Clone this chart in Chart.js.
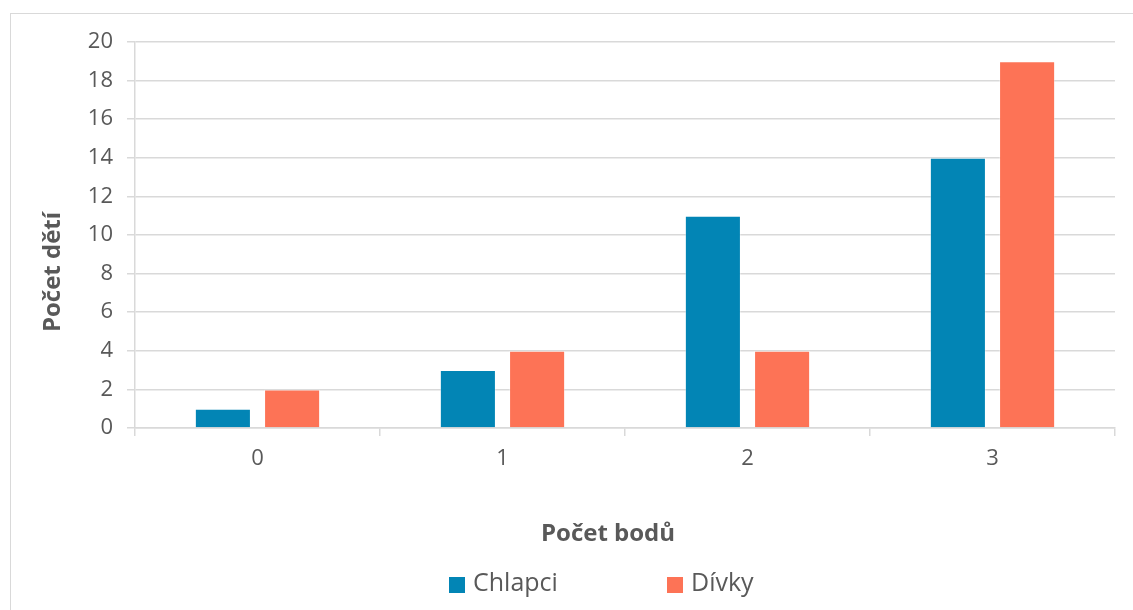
<!DOCTYPE html>
<html>
<head>
<meta charset="utf-8">
<script src="https://cdn.jsdelivr.net/npm/chart.js@4"></script>
<style>
  html, body { margin: 0; padding: 0; background: #fff; overflow: hidden; }
  #wrap { position: relative; width: 1133px; height: 610px; }
  #frame { position: absolute; left: 10px; top: 13px; width: 1300px; height: 800px;
           border: 1px solid #d9d9d9; box-sizing: border-box; pointer-events: none; }
  canvas { position: absolute; left: 0; top: 0; }
</style>
</head>
<body>
<div id="wrap">
  <div id="frame"></div>
  <canvas id="chart" width="1133" height="610"></canvas>
</div>
<script>
// Number of children per score
const categories = ['0', '1', '2', '3'];
const boys = [1, 3, 11, 14];
const girls = [2, 4, 4, 19];
const seriesNames = ['Chlapci', 'Dívky'];
const yTitle = 'Počet dětí';
const xTitle = 'Počet bodů';

const FONT = "'Open Sans', 'DejaVu Sans', sans-serif";
const TEXT = '#595959';
const GRID = '#d9d9d9';

// Axis titles and legend drawn in the margins around the plot
const decorations = {
  id: 'decorations',
  afterDraw(chart) {
    const ctx = chart.ctx;
    ctx.save();
    ctx.fillStyle = TEXT;
    ctx.font = 'bold 24px ' + FONT;
    ctx.textAlign = 'center';
    ctx.textBaseline = 'middle';
    ctx.fillText(xTitle, 608, 534);
    ctx.save();
    ctx.translate(53, 272);
    ctx.rotate(-Math.PI / 2);
    ctx.fillText(yTitle, 0, 0);
    ctx.restore();

    ctx.font = '25px ' + FONT;
    ctx.textAlign = 'left';
    const items = [{x: 449}, {x: 667}];
    chart.data.datasets.forEach((ds, i) => {
      const x = items[i].x;
      ctx.fillStyle = ds.backgroundColor;
      ctx.fillRect(x, 577, 16, 16);
      ctx.fillStyle = TEXT;
      ctx.fillText(ds.label, x + 24, 584);
    });
    ctx.restore();
  }
};

new Chart(document.getElementById('chart'), {
  type: 'bar',
  data: {
    labels: categories,
    datasets: [
      { label: seriesNames[0], data: boys, backgroundColor: '#0285b5',
        borderColor: 'rgba(255,255,255,0.35)', borderWidth: 1 },
      { label: seriesNames[1], data: girls, backgroundColor: '#fd7356',
        borderColor: 'rgba(255,255,255,0.35)', borderWidth: 1 }
    ]
  },
  options: {
    responsive: false,
    animation: false,
    devicePixelRatio: 1,
    layout: { padding: { left: 0, right: 18, top: 42, bottom: 0 } },
    datasets: { bar: { categoryPercentage: 0.565, barPercentage: 0.81 } },
    plugins: { legend: { display: false }, tooltip: { enabled: false } },
    scales: {
      x: {
        offset: true,
        grid: { offset: true, drawOnChartArea: false, drawTicks: true, tickLength: 8,
                color: GRID, lineWidth: 1.5 },
        border: { display: true, color: GRID, width: 1.5 },
        ticks: { color: TEXT, font: { family: FONT, size: 22 }, padding: 10 },
        afterFit(scale) { scale.height = 182; scale.paddingLeft = 0; scale.paddingRight = 0; }
      },
      y: {
        min: 0, max: 20,
        ticks: { stepSize: 2, color: TEXT, font: { family: FONT, size: 22 }, padding: 14 },
        grid: { color: GRID, lineWidth: 1.5, tickLength: 8 },
        border: { display: true, color: GRID, width: 1.5 },
        afterFit(scale) { scale.width = 135; scale.paddingTop = 0; scale.paddingBottom = 0; }
      }
    }
  },
  plugins: [decorations]
});
</script>
</body>
</html>
